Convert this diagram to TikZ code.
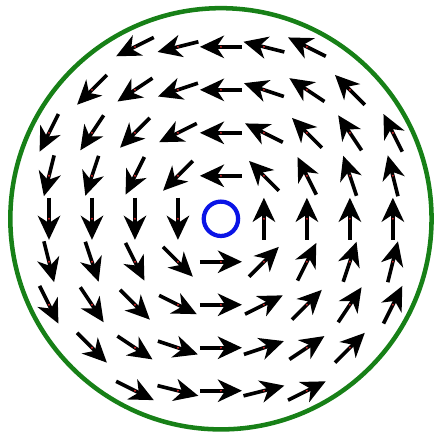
\documentclass[tikz,border=0pt]{standalone}
\usepackage{tikz}
\usetikzlibrary{arrows.meta,calc}
\usepackage{xcolor}
\definecolor{rimColor}{HTML}{178017}
\definecolor{coreColor}{HTML}{0A14E6}
\definecolor{markColor}{HTML}{D62728}

\begin{document}
\begin{tikzpicture}[
    >=Stealth,
    rim/.style={draw=rimColor, line width=3pt},
    core/.style={draw=coreColor, line width=2.8pt},
    vec/.style={line width=2.4pt, arrows={-Stealth[length=5.6mm, width=5.2mm, inset=1.7mm]}},
    midmark/.style={fill=markColor},
  ]
  \useasboundingbox (-5.14,-4.98) rectangle (4.98,5.09);

  % Boundary and core
  \coordinate (ctr) at (0,0);
  \draw[rim]  (ctr) circle (4.9);
  \draw[core] (ctr) circle (0.4);

  % Field arrows
  \foreach \i in {-4,...,4} {
    \foreach \j in {-4,...,4} {
      \pgfmathtruncatemacro\rr{\i*\i+\j*\j}
      \ifnum\rr>20 \else \ifnum\rr>0
        \pgfmathsetmacro\ang{atan2(\j,\i)+90}
        \coordinate (p\i\j) at (\i,\j);
        \draw[vec, shift={(p\i\j)}, rotate=\ang] (-0.49,0) -- (0.49,0);
        \fill[midmark] (p\i\j) circle (0.7pt);
      \fi\fi
    }
  }

\end{tikzpicture}
\end{document}
